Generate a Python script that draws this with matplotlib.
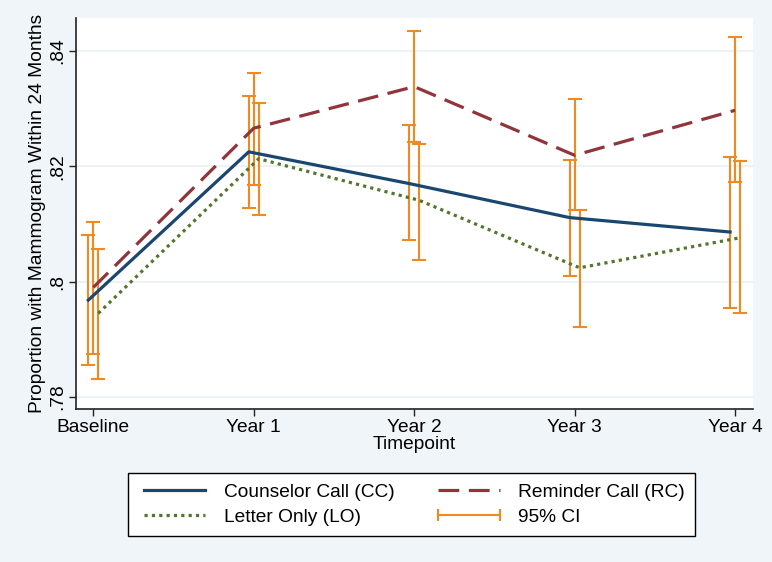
import matplotlib.pyplot as plt
from matplotlib.lines import Line2D

plt.rcParams['font.family'] = ['Liberation Sans', 'DejaVu Sans']

timepoints = ["Baseline", "Year 1", "Year 2", "Year 3", "Year 4"]

# estimated proportions and 95% CI bounds
cc_mean = [0.7968, 0.8225, 0.8170, 0.8111, 0.8086]
cc_low = [0.7855, 0.8127, 0.8072, 0.8010, 0.7954]
cc_high = [0.8080, 0.8321, 0.8271, 0.8211, 0.8216]

rc_mean = [0.7990, 0.8266, 0.8338, 0.8219, 0.8297]
rc_low = [0.7875, 0.8168, 0.8242, 0.8125, 0.8172]
rc_high = [0.8103, 0.8362, 0.8434, 0.8317, 0.8424]

lo_mean = [0.7945, 0.8213, 0.8141, 0.8024, 0.8076]
lo_low = [0.7832, 0.8115, 0.8038, 0.7921, 0.7946]
lo_high = [0.8056, 0.8309, 0.8239, 0.8124, 0.8209]

bg = "#F0F5F9"
orange = "#EE8A22"
fs = 13.8

fig = plt.figure(figsize=(7.72, 5.62), dpi=100, facecolor=bg)
ax = fig.add_axes([0.098, 0.272, 0.877, 0.696])
ax.set_facecolor("white")

series = [
    ("Counselor Call (CC)", cc_mean, cc_low, cc_high, "#1A476F", "-", -0.031),
    ("Reminder Call (RC)", rc_mean, rc_low, rc_high, "#90353B", (0, (6.5, 3.0)), 0.0),
    ("Letter Only (LO)", lo_mean, lo_low, lo_high, "#55752F", (0, (1, 1.3)), 0.031),
]

handles = []
for name, m, lo, hi, col, ls, off in series:
    xs = [i + off for i in range(len(timepoints))]
    ax.errorbar(xs, m, yerr=[[a - b for a, b in zip(m, lo)], [b - a for a, b in zip(m, hi)]],
                fmt="none", ecolor=orange, elinewidth=1.5, capsize=5, capthick=1.5, zorder=2)
    h, = ax.plot(xs, m, color=col, linestyle=ls, linewidth=2.3, label=name, zorder=3)
    handles.append(h)

ci_handle = Line2D([], [], color=orange, linewidth=1.5, marker="|", markersize=9,
                   markeredgewidth=1.5, label="95% CI")

ax.set_xlim(-0.11, 4.11)
ax.set_ylim(0.7779, 0.8457)
ax.set_xticks(range(len(timepoints)))
ax.set_xticklabels(timepoints, fontsize=fs)
ax.set_yticks([0.78, 0.80, 0.82, 0.84])
ax.set_yticklabels([".78", ".8", ".82", ".84"], fontsize=fs, rotation=90, va="center")
ax.yaxis.grid(True, color="#EAF2F7", linewidth=1.3)
ax.set_axisbelow(True)
ax.set_xlabel("Timepoint", fontsize=fs, labelpad=0)
ax.set_ylabel("Proportion with Mammogram Within 24 Months", fontsize=fs, labelpad=2)
for s in ["top", "right"]:
    ax.spines[s].set_visible(False)
for s in ["left", "bottom"]:
    ax.spines[s].set_color("#222222")
    ax.spines[s].set_linewidth(1.2)
ax.tick_params(direction="out", length=5, width=1, color="#222222", pad=2)

# legend filled column-wise, so order gives rows CC|RC and LO|CI
leg = fig.legend([handles[0], handles[2], handles[1], ci_handle],
                 ["Counselor Call (CC)", "Letter Only (LO)", "Reminder Call (RC)", "95% CI"],
                 loc="center", bbox_to_anchor=(0.533, 0.102), ncol=2, fontsize=fs,
                 handlelength=3.8, numpoints=2, columnspacing=2.0, labelspacing=0.4,
                 borderpad=0.55, handletextpad=0.65, fancybox=False, framealpha=1,
                 edgecolor="black", facecolor="white")
leg.get_frame().set_linewidth(1.0)

fig.savefig("out.png", dpi=100, facecolor=bg)
